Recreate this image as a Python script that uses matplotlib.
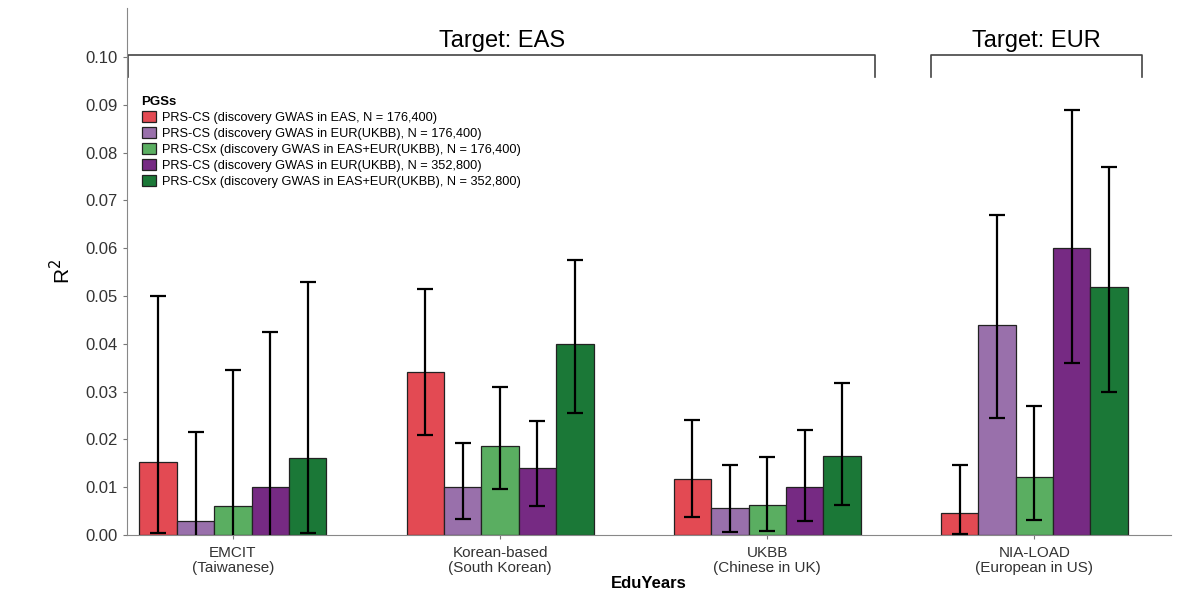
import numpy as np
import matplotlib
matplotlib.use("Agg")
import matplotlib.pyplot as plt

plt.rcParams['font.family'] = ['Liberation Sans', 'DejaVu Sans']

# categorias (cohortes objetivo)
cohortes = ["EMCIT\n(Taiwanese)", "Korean-based\n(South Korean)",
            "UKBB\n(Chinese in UK)", "NIA-LOAD\n(European in US)"]

series = [
    "PRS-CS (discovery GWAS in EAS, N = 176,400)",
    "PRS-CS (discovery GWAS in EUR(UKBB), N = 176,400)",
    "PRS-CSx (discovery GWAS in EAS+EUR(UKBB), N = 176,400)",
    "PRS-CS (discovery GWAS in EUR(UKBB), N = 352,800)",
    "PRS-CSx (discovery GWAS in EAS+EUR(UKBB), N = 352,800)",
]
colores = ["#E34A53", "#9970AB", "#5AAE61", "#762A83", "#1B7837"]

# R2 por serie (filas) y cohorte (columnas)
r2 = [
    [0.0153, 0.0340, 0.0118, 0.0045],
    [0.0030, 0.0100, 0.0057, 0.0440],
    [0.0060, 0.0185, 0.0062, 0.0122],
    [0.0100, 0.0140, 0.0101, 0.0600],
    [0.0160, 0.0400, 0.0165, 0.0518],
]
ic_bajo = [
    [0.0003, 0.0210, 0.0037, 0.0001],
    [-0.005, 0.0033, 0.0006, 0.0245],
    [-0.005, 0.0095, 0.0008, 0.0032],
    [-0.005, 0.0060, 0.0030, 0.0360],
    [0.0003, 0.0255, 0.0062, 0.0300],
]
ic_alto = [
    [0.0500, 0.0515, 0.0240, 0.0147],
    [0.0215, 0.0192, 0.0146, 0.0670],
    [0.0345, 0.0310, 0.0163, 0.0270],
    [0.0425, 0.0238, 0.0220, 0.0890],
    [0.0530, 0.0575, 0.0317, 0.0770],
]

fig = plt.figure(figsize=(11.86, 5.93), dpi=100)
ax = fig.add_axes([0.107, 0.098, 0.880, 0.888])

x = np.arange(1, len(cohortes) + 1)
ancho = 0.14
for i in range(len(series)):
    pos = x + (i - 2) * ancho
    vals = np.array(r2[i])
    lo = np.array(ic_bajo[i])
    hi = np.array(ic_alto[i])
    ax.bar(pos, vals, width=ancho, color=colores[i], edgecolor="#222222",
           linewidth=0.9, label=series[i], zorder=2)
    ax.errorbar(pos, vals, yerr=[vals - lo, hi - vals], fmt="none",
                ecolor="black", elinewidth=1.6, capsize=6, capthick=1.6, zorder=3)

ax.set_xlim(0.603, 4.51)
ax.set_ylim(0, 0.1102)
ax.set_yticks(np.arange(0, 0.101, 0.01))
ax.set_yticklabels([f"{v:.2f}" for v in np.arange(0, 0.101, 0.01)])
ax.set_xticks(x)
ax.set_xticklabels(cohortes, fontsize=11, color="#333333", linespacing=1.1)
ax.tick_params(axis="y", labelsize=12, colors="#333333", length=3, color="#777777")
ax.tick_params(axis="x", length=3, color="#777777", pad=5)
for s in ["top", "right"]:
    ax.spines[s].set_visible(False)
for s in ["left", "bottom"]:
    ax.spines[s].set_color("#888888")

ax.set_xlabel("EduYears", fontsize=12, fontweight="bold", labelpad=1)
ax.set_ylabel("R$^2$", fontsize=15, labelpad=8)

# corchetes de poblacion objetivo
def corchete(x0, x1, texto):
    ax.plot([x0, x0, x1, x1], [0.0958, 0.1004, 0.1004, 0.0958],
            color="#444444", linewidth=1.2, clip_on=False)
    ax.text((x0 + x1) / 2, 0.1010, texto, ha="center", va="bottom", fontsize=17)

corchete(0.607, 3.405, "Target: EAS")
corchete(3.614, 4.404, "Target: EUR")

leg = ax.legend(title="PGSs", loc="upper left", bbox_to_anchor=(0.003, 0.855),
                frameon=False, fontsize=9.2, handlelength=1.1, handleheight=1.0,
                labelspacing=0.22, handletextpad=0.5)
leg.get_title().set_fontweight("bold")
leg.get_title().set_fontsize(9.5)
leg._legend_box.align = "left"

fig.savefig("out.png", dpi=100)
